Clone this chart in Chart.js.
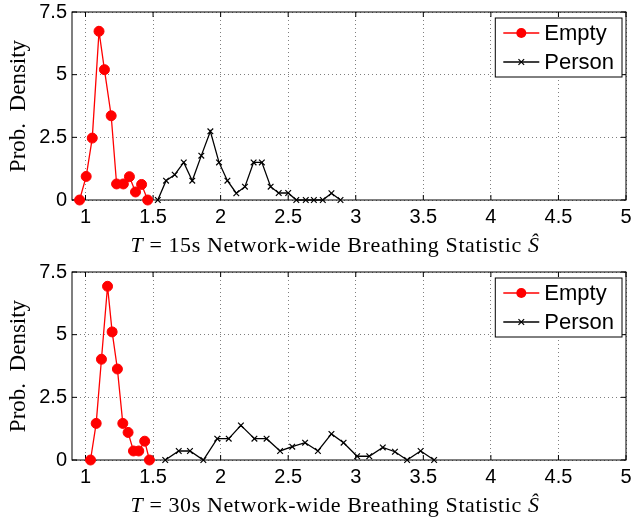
<!DOCTYPE html>
<html lang="en">
<head>
<meta charset="UTF-8">
<title>Network-wide Breathing Statistic densities</title>
<style>
  body { margin: 0; background: #fff; }
  canvas { display: block; }
</style>
</head>
<body>
<canvas id="panel15" width="636" height="260"></canvas>
<canvas id="panel30" width="636" height="260"></canvas>
<script src="https://cdn.jsdelivr.net/npm/chart.js"></script>
<script>
// axis ticks and labels
const xTicks = [1, 1.5, 2, 2.5, 3, 3.5, 4, 4.5, 5];
const yTicks = [0, 2.5, 5, 7.5];
const seriesNames = ['Empty', 'Person'];
const windowLabels = ['15s', '30s'];

// T = 15s panel
const empty15X = [0.956, 1.005, 1.05, 1.10, 1.14, 1.19, 1.23, 1.28, 1.325, 1.37, 1.415, 1.46];
const empty15Y = [0, 0.94, 2.47, 6.73, 5.2, 3.36, 0.64, 0.64, 0.93, 0.32, 0.62, 0];
const person15X = [1.535, 1.596, 1.66, 1.727, 1.79, 1.857, 1.924, 1.988, 2.05, 2.116, 2.18,
                   2.244, 2.305, 2.37, 2.43, 2.5, 2.56, 2.63, 2.69, 2.756, 2.82, 2.887];
const person15Y = [0, 0.77, 1.01, 1.5, 0.77, 1.77, 2.74, 1.5, 0.77, 0.27, 0.53,
                   1.5, 1.5, 0.53, 0.28, 0.28, 0, 0, 0, 0, 0.27, 0];

// T = 30s panel
const empty30X = [1.037, 1.079, 1.118, 1.163, 1.197, 1.236, 1.276, 1.315, 1.355, 1.394, 1.438, 1.473];
const empty30Y = [0, 1.46, 4.02, 6.93, 5.11, 3.63, 1.46, 1.1, 0.36, 0.36, 0.75, 0];
const person30X = [1.59, 1.69, 1.773, 1.872, 1.975, 2.06, 2.15, 2.25, 2.34, 2.44, 2.53,
                   2.625, 2.72, 2.82, 2.91, 3.01, 3.1, 3.2, 3.29, 3.38, 3.48, 3.58];
const person30Y = [0, 0.36, 0.36, 0, 0.85, 0.85, 1.38, 0.85, 0.85, 0.36, 0.53,
                   0.69, 0.36, 1.04, 0.69, 0.15, 0.15, 0.5, 0.33, 0, 0.36, 0];

const tickFont = { family: '"Liberation Sans", Arial, sans-serif', size: 20 };
const serif = '"Liberation Serif", "Times New Roman", serif';

function toPoints(xs, ys) {
    return xs.map((x, i) => ({ x: x, y: ys[i] }));
}

// box round the axes with inward tick marks, like MATLAB
const framePlugin = {
    id: 'frame',
    beforeDatasetsDraw(chart) {
        const { ctx, chartArea: a, scales: { x, y } } = chart;
        ctx.save();
        ctx.strokeStyle = '#000';
        ctx.lineWidth = 1;
        ctx.beginPath();
        x.ticks.forEach(t => {
            const px = x.getPixelForValue(t.value);
            ctx.moveTo(px, a.bottom); ctx.lineTo(px, a.bottom - 5);
            ctx.moveTo(px, a.top); ctx.lineTo(px, a.top + 5);
        });
        y.ticks.forEach(t => {
            const py = y.getPixelForValue(t.value);
            ctx.moveTo(a.left, py); ctx.lineTo(a.left + 5, py);
            ctx.moveTo(a.right, py); ctx.lineTo(a.right - 5, py);
        });
        ctx.stroke();
        ctx.strokeRect(a.left, a.top, a.right - a.left, a.bottom - a.top);
        ctx.restore();
    }
};

// legend box in the top right corner of the axes
const boxLegendPlugin = {
    id: 'boxLegend',
    afterDraw(chart) {
        const { ctx, chartArea: a } = chart;
        const sets = chart.data.datasets;
        ctx.save();
        ctx.font = '22px "Liberation Sans", Arial, sans-serif';
        const textW = Math.max(...sets.map(d => ctx.measureText(d.label).width));
        const w = 8 + 36 + 5 + textW + 8;
        const h = 59;
        const left = a.right - 4 - w;
        const top = a.top + 6;
        ctx.fillStyle = '#fff';
        ctx.fillRect(left, top, w, h);
        ctx.strokeStyle = '#000';
        ctx.lineWidth = 1;
        ctx.strokeRect(left, top, w, h);
        sets.forEach((d, i) => {
            const cy = top + 15 + i * 29;
            const x0 = left + 8;
            ctx.strokeStyle = d.borderColor;
            ctx.lineWidth = d.borderWidth;
            ctx.beginPath();
            ctx.moveTo(x0, cy); ctx.lineTo(x0 + 36, cy);
            ctx.stroke();
            const cx = x0 + 18;
            if (d.pointStyle === 'circle') {
                ctx.fillStyle = d.backgroundColor;
                ctx.beginPath();
                ctx.arc(cx, cy, d.pointRadius, 0, Math.PI * 2);
                ctx.fill();
            } else {
                const r = d.pointRadius * Math.SQRT1_2;
                ctx.lineWidth = d.pointBorderWidth;
                ctx.beginPath();
                ctx.moveTo(cx - r, cy - r); ctx.lineTo(cx + r, cy + r);
                ctx.moveTo(cx - r, cy + r); ctx.lineTo(cx + r, cy - r);
                ctx.stroke();
            }
            ctx.fillStyle = '#000';
            ctx.textBaseline = 'middle';
            ctx.fillText(d.label, x0 + 41, cy + 1);
        });
        ctx.restore();
    }
};

// x label with italic T and S-hat
const xTitlePlugin = {
    id: 'xTitle',
    afterDraw(chart, args, opts) {
        const { ctx, chartArea: a } = chart;
        const parts = [
            ['T', true],
            [' = ' + opts.window + ' Network-wide Breathing Statistic ', false],
            ['\u015C', true]
        ];
        const fontOf = it => (it ? 'italic ' : '') + '22px ' + serif;
        ctx.save();
        ctx.letterSpacing = '0.6px';
        ctx.wordSpacing = '4px';
        let total = 0;
        parts.forEach(p => { ctx.font = fontOf(p[1]); total += ctx.measureText(p[0]).width; });
        let x = (a.left + a.right) / 2 - 14 - total / 2;
        ctx.fillStyle = '#000';
        ctx.textBaseline = 'alphabetic';
        parts.forEach(p => {
            ctx.font = fontOf(p[1]);
            ctx.fillText(p[0], x, a.bottom + 52);
            x += ctx.measureText(p[0]).width;
        });
        ctx.restore();
    }
};

function makePanel(id, windowLabel, emptyX, emptyY, personX, personY) {
    return new Chart(document.getElementById(id), {
        type: 'scatter',
        data: {
            datasets: [
                {
                    label: seriesNames[0],
                    data: toPoints(emptyX, emptyY),
                    showLine: true,
                    borderColor: '#ff0000',
                    backgroundColor: '#ff0000',
                    borderWidth: 1.3,
                    pointStyle: 'circle',
                    pointRadius: 5,
                    pointBorderWidth: 1,
                    clip: false
                },
                {
                    label: seriesNames[1],
                    data: toPoints(personX, personY),
                    showLine: true,
                    borderColor: '#000000',
                    backgroundColor: '#000000',
                    borderWidth: 1.3,
                    pointStyle: 'crossRot',
                    pointRadius: 4,
                    pointBorderWidth: 1.2,
                    clip: false
                }
            ]
        },
        options: {
            responsive: false,
            animation: false,
            layout: { padding: { left: 0, right: 10, top: 12, bottom: 0 } },
            plugins: {
                legend: { display: false },
                tooltip: { enabled: false },
                xTitle: { window: windowLabel }
            },
            scales: {
                x: {
                    type: 'linear',
                    min: 0.9,
                    max: 5,
                    afterBuildTicks: s => { s.ticks = xTicks.map(v => ({ value: v })); },
                    afterFit: s => { s.height = 60; s.paddingLeft = 0; s.paddingRight = 0; },
                    ticks: { font: tickFont, color: '#000', padding: 5, maxRotation: 0, callback: v => String(v) },
                    grid: { color: 'rgba(0,0,0,0.5)', drawTicks: false, lineWidth: 1 },
                    border: { display: false, dash: [1, 3] }
                },
                y: {
                    min: 0,
                    max: 7.5,
                    afterBuildTicks: s => { s.ticks = yTicks.map(v => ({ value: v })); },
                    afterFit: s => { s.width = 72; s.paddingTop = 0; s.paddingBottom = 0; },
                    ticks: { font: tickFont, color: '#000', padding: 5, callback: v => String(v) },
                    grid: { color: 'rgba(0,0,0,0.5)', drawTicks: false, lineWidth: 1 },
                    border: { display: false, dash: [1, 3] },
                    title: {
                        display: true,
                        text: 'Prob.  Density',
                        color: '#000',
                        font: { family: serif, size: 23 },
                        padding: { top: 5, bottom: 0 }
                    }
                }
            }
        },
        plugins: [framePlugin, boxLegendPlugin, xTitlePlugin]
    });
}

makePanel('panel15', windowLabels[0], empty15X, empty15Y, person15X, person15Y);
makePanel('panel30', windowLabels[1], empty30X, empty30Y, person30X, person30Y);
</script>
</body>
</html>
